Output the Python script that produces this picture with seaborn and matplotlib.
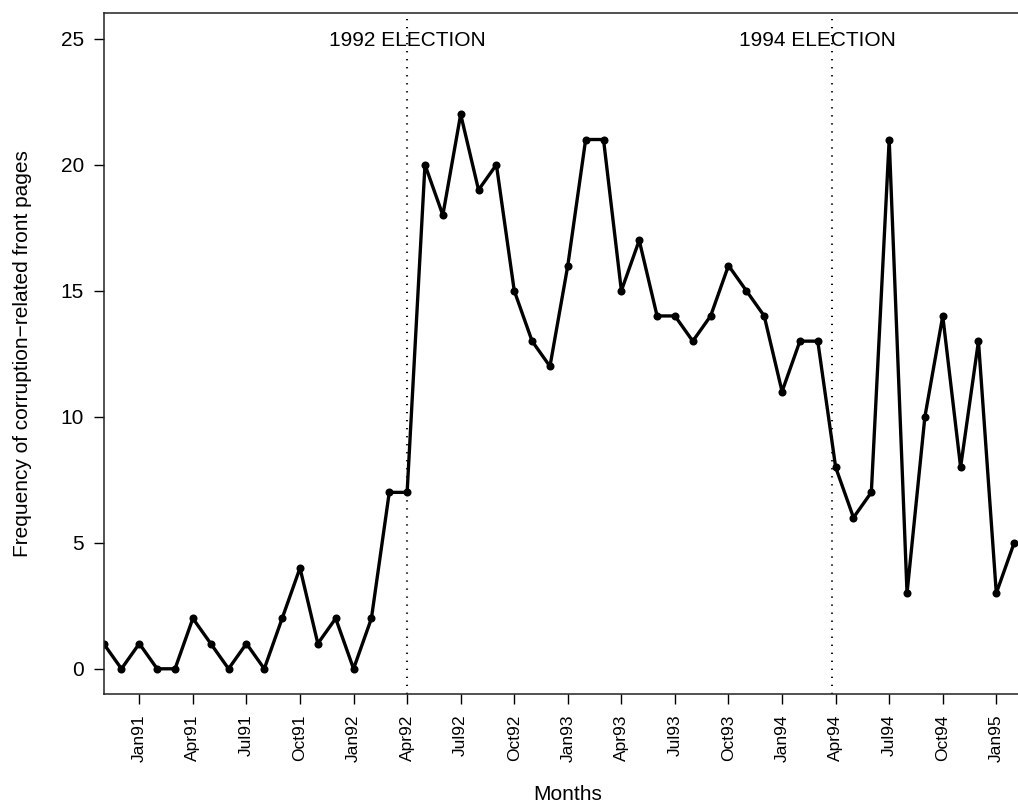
import matplotlib
matplotlib.use("Agg")
import matplotlib.pyplot as plt
import seaborn as sns
import pandas as pd

# Monthly counts of corruption-related front pages, Nov 1990 - Feb 1995
months = [
    "Nov90", "Dec90",
    "Jan91", "Feb91", "Mar91", "Apr91", "May91", "Jun91",
    "Jul91", "Aug91", "Sep91", "Oct91", "Nov91", "Dec91",
    "Jan92", "Feb92", "Mar92", "Apr92", "May92", "Jun92",
    "Jul92", "Aug92", "Sep92", "Oct92", "Nov92", "Dec92",
    "Jan93", "Feb93", "Mar93", "Apr93", "May93", "Jun93",
    "Jul93", "Aug93", "Sep93", "Oct93", "Nov93", "Dec93",
    "Jan94", "Feb94", "Mar94", "Apr94", "May94", "Jun94",
    "Jul94", "Aug94", "Sep94", "Oct94", "Nov94", "Dec94",
    "Jan95", "Feb95",
]
counts = [
    1, 0,
    1, 0, 0, 2, 1, 0,
    1, 0, 2, 4, 1, 2,
    0, 2, 7, 7, 20, 18,
    22, 19, 20, 15, 13, 12,
    16, 21, 21, 15, 17, 14,
    14, 13, 14, 16, 15, 14,
    11, 13, 13, 8, 6, 7,
    21, 3, 10, 14, 8, 13,
    3, 5,
]

# Elections: label, line position and label position in month index units
election_labels = ["1992 ELECTION", "1994 ELECTION"]
election_lines = [17.0, 40.82]
election_text_x = [17.0, 40.0]

y_ticks = [0, 5, 10, 15, 20, 25]

df = pd.DataFrame({"month": range(len(months)), "count": counts})

sns.set_style("white")
plt.rcParams["font.family"] = ["Liberation Sans", "DejaVu Sans"]

fig = plt.figure(figsize=(10.18, 8.06), dpi=100)
ax = fig.add_axes([0.10177, 0.13896, 0.9120, 0.8443])

sns.lineplot(data=df, x="month", y="count", ax=ax, color="black",
             linewidth=2.4, marker="o", markersize=5.8,
             markeredgewidth=0, markerfacecolor="black")

for xl in election_lines:
    ax.axvline(xl, color="black", linewidth=1.5,
               linestyle=(0, (0.6, 3.25)))
for lab, xt in zip(election_labels, election_text_x):
    ax.text(xt, 25, lab, ha="center", va="center_baseline", fontsize=15,
            color="black")

ax.set_xlim(0, 52)
ax.set_ylim(-1, 26)

tick_idx = list(range(2, len(months), 3))
ax.set_xticks(tick_idx)
ax.set_xticklabels([months[i] for i in tick_idx], rotation=90,
                   fontsize=12.5)
ax.set_yticks(y_ticks)
ax.set_yticklabels([str(v) for v in y_ticks], fontsize=15)

ax.tick_params(axis="both", which="major", direction="out", length=7.2,
               width=1, color="black", labelcolor="black", bottom=True,
               left=True)
ax.tick_params(axis="x", pad=7.5)
ax.tick_params(axis="y", pad=7)

for side in ["top", "bottom", "left", "right"]:
    ax.spines[side].set_visible(True)
    ax.spines[side].set_color("#222222")
    ax.spines[side].set_linewidth(1.1)

ax.set_xlabel("Months", fontsize=15, color="black")
ax.set_ylabel("Frequency of corruption\u2212related front pages",
              fontsize=15, color="black")
ax.xaxis.set_label_coords(0.5, -0.1337)
ax.yaxis.set_label_coords(-0.0771, 0.5)

fig.savefig("out.png", dpi=100)
